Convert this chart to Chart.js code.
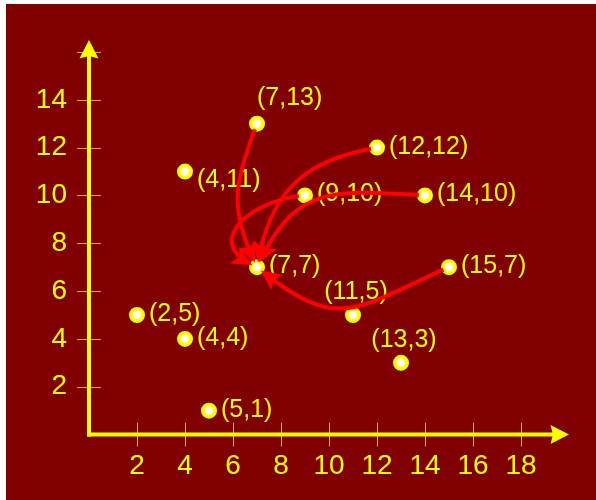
<!DOCTYPE html>
<html><head><meta charset="utf-8">
<script src="https://cdn.jsdelivr.net/npm/chart.js@4/dist/chart.umd.min.js"></script>
<style>html,body{margin:0;padding:0;background:#fff;}canvas{display:block;}</style>
</head><body>
<canvas id="c" width="596" height="500"></canvas>
<script>
// ---- data ----
const xValues = [2, 4, 5, 4, 7, 7, 9, 12, 14, 15, 11, 13];
const yValues = [5, 4, 1, 11, 13, 7, 10, 12, 10, 7, 5, 3];
const pointLabels = ['(2,5)','(4,4)','(5,1)','(4,11)','(7,13)','(7,7)','(9,10)','(12,12)','(14,10)','(15,7)','(11,5)','(13,3)'];
const xTicks = [2, 4, 6, 8, 10, 12, 14, 16, 18];
const xTickLabels = ['2','4','6','8','10','12','14','16','18'];
const yTicks = [2, 4, 6, 8, 10, 12, 14, 16];
const yTickLabels = ['2','4','6','8','10','12','14',''];
// arrows: index of start point -> index of end point
const arrowFrom = [4, 7, 6, 8, 9];
const arrowTo = [5, 5, 5, 5, 5];

// ---- styling (not data) ----
const labelPlacement = ['right','right','right','belowright','aboveright','right','right','right','right','right','above','above'];
const arrowOut = [250, 190, 185, 177, 204];
const arrowIn = [115, 80, 158, 65, 321];
const arrowLoose = [1.2, 1.15, 1.75, 1.3, 1.4];
const BG = '#800000', YEL = '#ffff00', GOLD = 'rgb(215,170,20)', RED = '#ff0000';

function lerp(a, b, t) { return {x: a.x + (b.x - a.x) * t, y: a.y + (b.y - a.y) * t}; }
function deCas(p, t) {
  const a = lerp(p[0], p[1], t), b = lerp(p[1], p[2], t), c = lerp(p[2], p[3], t);
  const d = lerp(a, b, t), e = lerp(b, c, t), f = lerp(d, e, t);
  return [[p[0], a, d, f], [f, e, c, p[3]]];
}
function bez(p, t) { return deCas(p, t)[0][3]; }
function sub(p, t0, t1) { const left = deCas(p, t1)[0]; return deCas(left, t0 / t1)[1]; }
function dist(a, b) { return Math.hypot(a.x - b.x, a.y - b.y); }

const deco = {
  id: 'deco',
  beforeDraw(chart) {
    const c = chart.ctx; c.save(); c.fillStyle = BG; c.fillRect(6, 4, 590, 496); c.restore();
  },
  beforeDatasetsDraw(chart) {
    const ctx = chart.ctx, x = chart.scales.x, y = chart.scales.y;
    const x0 = x.getPixelForValue(0), y0 = y.getPixelForValue(0);
    const xEnd = x.getPixelForValue(x.max), yEnd = y.getPixelForValue(y.max);
    ctx.save();
    ctx.strokeStyle = GOLD; ctx.lineWidth = 1;
    xTicks.forEach(v => { const p = Math.round(x.getPixelForValue(v)) + 0.5;
      ctx.beginPath(); ctx.moveTo(p, y0 - 12); ctx.lineTo(p, y0 + 12); ctx.stroke(); });
    yTicks.forEach(v => { const p = Math.round(y.getPixelForValue(v)) + 0.5;
      ctx.beginPath(); ctx.moveTo(x0 - 12, p); ctx.lineTo(x0 + 12, p); ctx.stroke(); });
    ctx.strokeStyle = YEL; ctx.fillStyle = YEL; ctx.lineWidth = 4; ctx.lineCap = 'butt';
    ctx.beginPath(); ctx.moveTo(x0, y0 + 2); ctx.lineTo(x0, yEnd + 14); ctx.stroke();
    ctx.beginPath(); ctx.moveTo(x0 - 2, y0); ctx.lineTo(xEnd - 14, y0); ctx.stroke();
    ctx.beginPath(); ctx.moveTo(x0, yEnd); ctx.lineTo(x0 - 9.5, yEnd + 18.5); ctx.lineTo(x0, yEnd + 16); ctx.lineTo(x0 + 9.5, yEnd + 18.5); ctx.closePath(); ctx.fill();
    ctx.beginPath(); ctx.moveTo(xEnd, y0); ctx.lineTo(xEnd - 18.5, y0 - 9.5); ctx.lineTo(xEnd - 16, y0); ctx.lineTo(xEnd - 18.5, y0 + 9.5); ctx.closePath(); ctx.fill();
    // point labels
    ctx.font = '25px "Liberation Sans", Arial, sans-serif';
    ctx.textBaseline = 'middle';
    xValues.forEach((xv, i) => {
      const px = x.getPixelForValue(xv), py = y.getPixelForValue(yValues[i]);
      const pl = labelPlacement[i];
      if (pl === 'right') { ctx.textAlign = 'left'; ctx.fillText(pointLabels[i], px + 12, py - 1); }
      else if (pl === 'belowright') { ctx.textAlign = 'left'; ctx.fillText(pointLabels[i], px + 12, py + 9); }
      else if (pl === 'aboveright') { ctx.textAlign = 'left'; ctx.fillText(pointLabels[i], px, py - 26); }
      else { ctx.textAlign = 'center'; ctx.fillText(pointLabels[i], px + 3, py - 23); }
    });
    ctx.restore();
  },
  afterDatasetsDraw(chart) {
    const ctx = chart.ctx, x = chart.scales.x, y = chart.scales.y;
    ctx.save();
    ctx.strokeStyle = RED; ctx.fillStyle = RED; ctx.lineWidth = 4; ctx.lineCap = 'butt';
    arrowFrom.forEach((fi, k) => {
      const ti = arrowTo[k];
      const P0 = {x: x.getPixelForValue(xValues[fi]), y: y.getPixelForValue(yValues[fi])};
      const P3 = {x: x.getPixelForValue(xValues[ti]), y: y.getPixelForValue(yValues[ti])};
      const L = 0.3915 * dist(P0, P3) * arrowLoose[k];
      const ao = arrowOut[k] * Math.PI / 180, ai = arrowIn[k] * Math.PI / 180;
      const P1 = {x: P0.x + L * Math.cos(ao), y: P0.y - L * Math.sin(ao)};
      const P2 = {x: P3.x + L * Math.cos(ai), y: P3.y - L * Math.sin(ai)};
      const p = [P0, P1, P2, P3];
      let t0 = 0, t1 = 1, tl = 1;
      for (let i = 0; i <= 2000; i++) { const t = i / 2000; if (dist(bez(p, t), P0) >= 6) { t0 = t; break; } }
      for (let i = 2000; i >= 0; i--) { const t = i / 2000; if (dist(bez(p, t), P3) >= 5) { t1 = t; break; } }
      const tip = bez(p, t1);
      for (let i = 2000; i >= 0; i--) { const t = i / 2000; if (dist(bez(p, t), tip) >= 12) { tl = t; break; } }
      const q = sub(p, t0, tl);
      ctx.beginPath(); ctx.moveTo(q[0].x, q[0].y); ctx.bezierCurveTo(q[1].x, q[1].y, q[2].x, q[2].y, q[3].x, q[3].y); ctx.stroke();
      const back = bez(p, Math.max(0, t1 - 0.06));
      let dx = tip.x - back.x, dy = tip.y - back.y; const n = Math.hypot(dx, dy); dx /= n; dy /= n;
      const nx = -dy, ny = dx, hl = 20, hw = 9.5;
      ctx.beginPath();
      ctx.moveTo(tip.x, tip.y);
      ctx.lineTo(tip.x - dx * hl + nx * hw, tip.y - dy * hl + ny * hw);
      ctx.lineTo(tip.x - dx * (hl - 4), tip.y - dy * (hl - 4));
      ctx.lineTo(tip.x - dx * hl - nx * hw, tip.y - dy * hl - ny * hw);
      ctx.closePath(); ctx.fill();
    });
    ctx.restore();
  }
};

const pts = xValues.map((v, i) => ({x: v, y: yValues[i]}));
new Chart(document.getElementById('c'), {
  type: 'scatter',
  data: { datasets: [{ data: pts, pointRadius: 6, pointHoverRadius: 6, borderWidth: 4, pointBorderWidth: 4,
    pointBackgroundColor: '#ffffff', pointBorderColor: YEL, backgroundColor: '#ffffff', borderColor: YEL, clip: false }] },
  options: {
    responsive: false, animation: false, devicePixelRatio: 1,
    layout: { padding: { left: 0, top: 40, right: 27, bottom: 0 } },
    plugins: { legend: { display: false }, tooltip: { enabled: false } },
    events: [],
    scales: {
      x: {
        type: 'linear', min: 0, max: 20,
        grid: { display: false, drawTicks: false }, border: { display: false },
        afterBuildTicks: s => { s.ticks = xTicks.map(v => ({value: v})); },
        ticks: { autoSkip: false, maxRotation: 0, minRotation: 0, padding: 15, color: YEL,
          font: { family: '"Liberation Sans", Arial, sans-serif', size: 28 },
          callback: v => { const i = xTicks.indexOf(v); return i >= 0 ? xTickLabels[i] : ''; } },
        afterFit: s => { s.height = 65.4; s.paddingLeft = 0; s.paddingRight = 0; }
      },
      y: {
        type: 'linear', min: 0, max: 16.5,
        grid: { display: false, drawTicks: false }, border: { display: false },
        afterBuildTicks: s => { s.ticks = yTicks.map(v => ({value: v})); },
        ticks: { autoSkip: false, padding: 22, color: YEL,
          font: { family: '"Liberation Sans", Arial, sans-serif', size: 28 },
          callback: v => { const i = yTicks.indexOf(v); return i >= 0 ? yTickLabels[i] : ''; } },
        afterFit: s => { s.width = 89; s.paddingTop = 0; s.paddingBottom = 0; }
      }
    }
  },
  plugins: [deco]
});
</script>
</body></html>
